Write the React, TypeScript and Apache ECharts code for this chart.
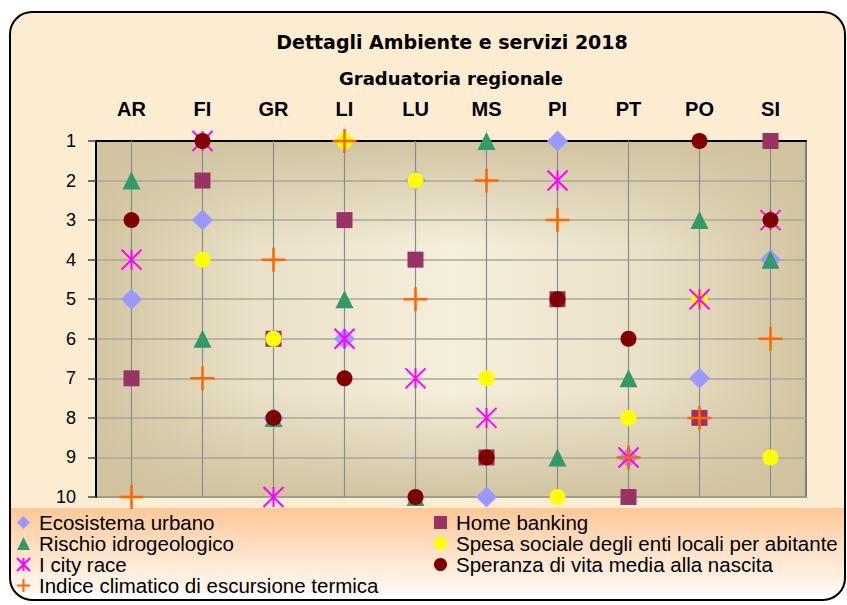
import React, { useEffect, useRef } from "react";
import * as echarts from "echarts";

const categories = ["AR", "FI", "GR", "LI", "LU", "MS", "PI", "PT", "PO", "SI"];
const ecosistemaUrbano = [5, 3, 8, 6, 2, 10, 1, 9, 7, 4];
const rischioIdrogeologico = [2, 6, 8, 5, 10, 1, 9, 7, 3, 4];
const iCityRace = [4, 1, 10, 6, 7, 8, 2, 9, 5, 3];
const indiceClimatico = [10, 7, 4, 1, 5, 2, 3, 9, 8, 6];
const homeBanking = [7, 2, 6, 3, 4, 9, 5, 10, 8, 1];
const spesaSociale = [3, 4, 6, 1, 2, 7, 10, 8, 5, 9];
const speranzaVita = [3, 1, 8, 7, 10, 9, 5, 6, 1, 3];

const nEco = "Ecosistema urbano";
const nRischio = "Rischio idrogeologico";
const nCity = "I city race";
const nClima = "Indice climatico di escursione termica";
const nHome = "Home banking";
const nSpesa = "Spesa sociale degli enti locali per abitante";
const nVita = "Speranza di vita media alla nascita";

const title = "Dettagli Ambiente e servizi 2018";
const subtitle = "Graduatoria regionale";

const SANS = "'Liberation Sans', Arial, sans-serif";
const ASTERISK = "path://M0,0L20,20M20,0L0,20M10,0L10,20";
const PLUS = "path://M0,10L20,10M10,0L10,20";

const toPts = (arr: number[]) => categories.map((c, i) => [c, arr[i]]);

export default function App() {
  const ref = useRef<HTMLDivElement>(null);
  useEffect(() => {
    if (!ref.current) return;
    const chart = echarts.init(ref.current, undefined, { renderer: "svg" });
    const gl = 96, gt = 141, gw = 710, gh = 356;
    const mk = (name: string, data: number[], symbol: string, size: number, itemStyle: any) => ({
      type: "scatter",
      name,
      data: toPts(data),
      symbol,
      symbolSize: size,
      itemStyle: { opacity: 1, ...itemStyle },
      z: 3,
      clip: false,
      silent: true,
    });
    const legendBase = {
      orient: "vertical",
      top: 512,
      padding: 0,
      itemWidth: 13,
      itemHeight: 13,
      itemGap: 0,
      selectedMode: false,
      textStyle: { fontSize: 20.5, lineHeight: 19, fontFamily: SANS, color: "#000", padding: [0, 0, 0, 4] },
    };
    const option: any = {
      animation: false,
      graphic: [
        { type: "rect", z: -10, shape: { x: 10, y: 12, width: 835, height: 588, r: 22 }, style: { fill: "#FCECD2", stroke: "none" } },
        {
          type: "rect", z: -9, shape: { x: 11, y: 508, width: 833, height: 91, r: [0, 0, 21, 21] },
          style: { fill: new echarts.graphic.LinearGradient(0, 0, 0, 1, [{ offset: 0, color: "#FDC898" }, { offset: 1, color: "#FFFDFB" }]) },
        },
        {
          type: "rect", z: -8, shape: { x: gl, y: gt, width: gw, height: gh },
          style: {
            fill: new echarts.graphic.LinearGradient(0, 0, 1, 0, [
              { offset: 0, color: "#D3C5A1" },
              { offset: 0.22, color: "#E9E0C7" },
              { offset: 0.5, color: "#F6EFDD" },
              { offset: 0.78, color: "#E9E0C7" },
              { offset: 1, color: "#D3C5A1" },
            ]),
          },
        },
        {
          type: "rect", z: -7, shape: { x: gl, y: gt, width: gw, height: gh },
          style: {
            fill: new echarts.graphic.LinearGradient(0, 0, 0, 1, [
              { offset: 0, color: "rgba(208,194,158,0.95)" },
              { offset: 0.3, color: "rgba(208,194,158,0)" },
              { offset: 0.7, color: "rgba(208,194,158,0)" },
              { offset: 1, color: "rgba(208,194,158,0.95)" },
            ]),
          },
        },
        { type: "rect", z: 20, shape: { x: 10, y: 12, width: 835, height: 588, r: 22 }, style: { fill: "none", stroke: "#000", lineWidth: 2 } },
        {
          type: "text", z: 20, x: 452, y: 42,
          style: { text: title, fill: "#000", fontSize: 19, fontWeight: "bold", fontFamily: "'DejaVu Sans', sans-serif", align: "center", verticalAlign: "middle" },
        },
        {
          type: "text", z: 20, x: 451, y: 78,
          style: { text: subtitle, fill: "#000", fontSize: 18, fontWeight: "bold", fontFamily: "'DejaVu Sans', sans-serif", align: "center", verticalAlign: "middle" },
        },
      ],
      grid: {
        left: gl, top: gt, width: gw, height: gh,
        show: true, borderColor: "#808080", borderWidth: 2, backgroundColor: "transparent",
      },
      xAxis: {
        type: "category",
        data: categories,
        position: "top",
        boundaryGap: true,
        axisLine: { show: true, lineStyle: { color: "#000", width: 2 } },
        axisTick: { show: false },
        splitLine: { show: false },
        axisLabel: { fontSize: 20, fontWeight: "bold", fontFamily: SANS, color: "#000", margin: 22 },
      },
      yAxis: {
        type: "value",
        inverse: true,
        min: 1,
        max: 10,
        interval: 1,
        axisLine: { show: true, lineStyle: { color: "#000", width: 2 } },
        axisTick: { show: true, length: 8, lineStyle: { color: "#444", width: 1.5 } },
        splitLine: { show: true, lineStyle: { color: "#ABA69C", width: 1.5 } },
        axisLabel: { fontSize: 18, fontFamily: SANS, color: "#000", margin: 20 },
      },
      legend: [
        { ...legendBase, data: [nEco, nRischio, nCity, nClima], left: 16 },
        { ...legendBase, data: [nHome, nSpesa, nVita], left: 434 },
      ],
      series: [
        {
          type: "scatter",
          name: "grid-lines",
          data: [],
          z: 1,
          silent: true,
          markLine: {
            z: 1,
            silent: true,
            symbol: "none",
            label: { show: false },
            lineStyle: { color: "#8C8C8C", width: 1.2, type: "solid" },
            data: categories.map((c) => ({ xAxis: c })),
          },
        },
        mk(nEco, ecosistemaUrbano, "diamond", 21, { color: "#9999FF" }),
        mk(nHome, homeBanking, "rect", 16, { color: "#993366" }),
        mk(nRischio, rischioIdrogeologico, "triangle", 18, { color: "#339966" }),
        mk(nSpesa, spesaSociale, "circle", 16, { color: "#FFFF00" }),
        mk(nCity, iCityRace, ASTERISK, 20, { color: "rgba(0,0,0,0)", borderColor: "#FF00FF", borderWidth: 2 }),
        mk(nVita, speranzaVita, "circle", 16, { color: "#800000" }),
        mk(nClima, indiceClimatico, PLUS, 24, { color: "rgba(0,0,0,0)", borderColor: "#FF6600", borderWidth: 2.5 }),
      ],
    };
    chart.setOption(option);
    return () => chart.dispose();
  }, []);
  return <div ref={ref} style={{ position: "absolute", left: 0, top: 0, width: 847, height: 605 }} />;
}
